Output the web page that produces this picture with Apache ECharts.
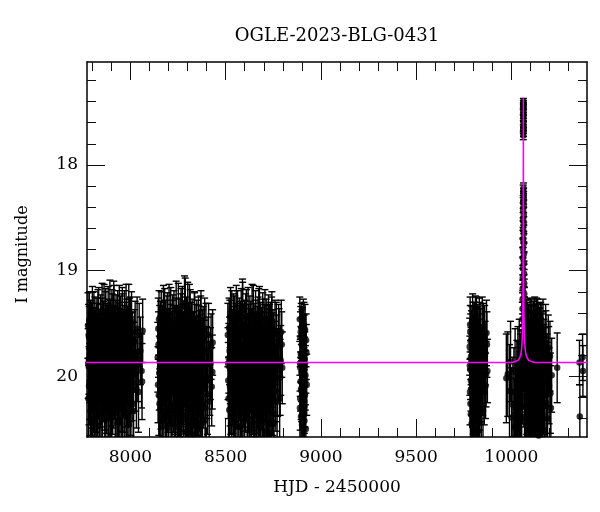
<!DOCTYPE html>
<html><head><meta charset="utf-8">
<script src="https://cdn.jsdelivr.net/npm/echarts@6/dist/echarts.min.js"></script>
<style>html,body{margin:0;padding:0;background:#fff}#c{width:600px;height:512px}</style>
</head><body><div id="c"></div>
<script>
const chartTitle = 'OGLE-2023-BLG-0431';
const xName = 'HJD - 2450000';
const yName = 'I magnitude';
const xMin = 7772, xMax = 10397;
const yMin = 17.025, yMax = 20.575;
const xMajorTicks = [8000, 8500, 9000, 9500, 10000];
const xMinorTicks = [7800, 7900, 8100, 8200, 8300, 8400, 8600, 8700, 8800, 8900, 9100, 9200, 9300, 9400, 9600, 9700, 9800, 9900, 10100, 10200, 10300];
const yMajorTicks = [18, 19, 20];
const yMinorTicks = [17.2, 17.4, 17.6, 17.8, 18.2, 18.4, 18.6, 18.8, 19.2, 19.4, 19.6, 19.8, 20.2, 20.4];

// [HJD-2450000, I mag, error]
const season1 = [[7777.3,19.52,0.31],[7779.1,20.21,0.38],[7781.8,19.84,0.33],[7783.2,19.63,0.29],[7785.9,20.05,0.36],[7787.4,19.91,0.34],[7790.6,20.33,0.41],[7792.1,19.74,0.30],[7794.8,19.58,0.28],[7796.3,20.12,0.37],
[7799.0,19.95,0.35],[7801.5,19.69,0.31],[7803.2,20.27,0.40],[7805.7,19.81,0.32],[7808.4,19.47,0.27],[7810.0,20.02,0.36],[7812.6,19.88,0.33],[7814.3,20.41,0.42],[7817.1,19.66,0.30],[7819.5,19.93,0.34],
[7821.2,20.15,0.38],[7823.9,19.55,0.29],[7826.4,19.79,0.32],[7828.0,20.08,0.37],[7830.7,19.86,0.33],[7833.3,19.43,0.27],[7835.1,20.19,0.39],[7837.8,19.72,0.31],[7840.2,20.36,0.41],[7842.6,19.97,0.35],
[7845.1,19.61,0.29],[7847.9,19.89,0.34],[7850.3,20.24,0.39],[7852.0,19.54,0.28],[7854.7,19.82,0.33],[7857.2,20.06,0.36],[7859.8,19.70,0.30],[7861.5,19.39,0.26],[7864.1,20.13,0.38],[7866.8,19.92,0.34],
[7869.2,19.48,0.28],[7871.0,20.30,0.40],[7873.6,19.77,0.32],[7876.3,19.60,0.29],[7878.9,20.01,0.35],[7881.4,19.87,0.33],[7883.0,19.42,0.27],[7885.7,20.22,0.39],[7888.2,19.68,0.30],[7890.9,19.99,0.35],
[7893.5,20.38,0.41],[7895.1,19.57,0.29],[7897.8,19.83,0.33],[7900.4,20.10,0.37],[7902.9,19.45,0.27],[7905.3,19.75,0.31],[7907.1,20.17,0.38],[7909.8,19.90,0.34],[7912.4,19.36,0.26],[7914.9,20.04,0.36],
[7917.5,19.64,0.30],[7919.2,19.85,0.33],[7921.9,20.28,0.40],[7924.6,19.51,0.28],[7927.1,19.96,0.35],[7929.7,20.44,0.42],[7932.2,19.71,0.31],[7934.0,19.80,0.32],[7936.6,20.09,0.37],[7939.3,19.59,0.29],
[7941.8,19.41,0.27],[7944.4,20.20,0.39],[7946.1,19.94,0.34],[7948.9,19.67,0.30],[7951.5,20.14,0.38],[7954.0,19.78,0.32],[7956.6,19.50,0.28],[7958.3,20.32,0.40],[7961.0,19.88,0.34],[7963.7,20.03,0.36],
[7966.2,19.62,0.29],[7968.8,19.46,0.27],[7971.5,20.25,0.39],[7973.1,19.73,0.31],[7975.9,19.98,0.35],[7978.4,20.11,0.37],[7981.0,19.56,0.29],[7983.7,19.84,0.33],[7986.2,20.39,0.41],[7988.9,19.65,0.30],
[7991.4,19.40,0.27],[7994.0,20.07,0.36],[7996.7,19.93,0.34],[7999.3,19.53,0.28],[8002.0,20.18,0.38],[8004.6,19.76,0.32],[8007.1,20.00,0.35],[8010.8,19.69,0.30],[8014.5,20.26,0.39],[8019.2,19.82,0.33],
[8024.7,19.58,0.29],[8031.3,20.12,0.37],[8038.6,19.90,0.34],[8046.0,19.61,0.30],[8058.4,19.95,0.35],[8064.2,19.57,0.30],
[7778.2,19.88,0.33],[7780.5,19.61,0.29],[7782.6,20.09,0.37],[7784.5,19.47,0.27],[7786.7,19.79,0.32],[7789.0,20.18,0.38],[7791.4,19.56,0.28],[7793.5,19.99,0.35],[7795.6,20.44,0.42],[7797.7,19.70,0.31],
[7800.2,19.42,0.27],[7802.4,19.91,0.34],[7804.5,20.14,0.38],[7807.1,19.65,0.30],[7809.2,19.84,0.33],[7811.3,20.29,0.40],[7813.5,19.53,0.28],[7815.7,19.97,0.35],[7818.3,19.74,0.31],[7820.4,20.36,0.41],
[7822.6,19.60,0.29],[7825.2,19.93,0.34],[7827.2,20.22,0.39],[7829.4,19.45,0.27],[7832.0,19.81,0.32],[7834.2,20.04,0.36],[7836.5,19.67,0.30],[7839.0,20.47,0.43],[7841.4,19.89,0.34],[7843.9,19.51,0.28],
[7846.5,20.11,0.37],[7849.1,19.76,0.31],[7851.2,19.38,0.26],[7853.4,20.25,0.39],[7856.0,19.86,0.33],[7858.5,19.58,0.29],[7860.7,20.07,0.36],[7862.8,19.72,0.31],[7865.5,20.32,0.40],[7868.0,19.95,0.35],
[7870.1,19.44,0.27],[7872.3,19.83,0.33],[7874.9,20.16,0.38],[7877.6,19.62,0.29],[7880.2,19.90,0.34],[7882.2,20.40,0.41],[7884.4,19.55,0.28],[7887.0,20.02,0.36],[7889.6,19.78,0.32],[7892.2,19.35,0.26],
[7894.3,20.20,0.39],[7896.5,19.68,0.30],[7899.1,19.94,0.35],[7901.7,20.27,0.40],[7904.1,19.50,0.28],[7906.2,19.87,0.33],[7908.5,20.12,0.37],[7911.1,19.63,0.30],[7913.7,19.41,0.27],[7916.2,20.05,0.36],
[7918.4,19.80,0.32],[7920.6,20.35,0.41],[7923.3,19.57,0.29],[7925.9,19.97,0.35],[7928.4,19.73,0.31],[7931.0,20.23,0.39],[7933.1,19.46,0.27],[7935.3,19.92,0.34],[7938.0,20.42,0.42],[7940.6,19.66,0.30],
[7943.1,19.85,0.33],[7945.3,20.08,0.37],[7947.5,19.52,0.28],[7950.2,19.77,0.32],[7952.8,20.30,0.40],[7955.3,19.96,0.35],[7957.5,19.43,0.27],[7959.7,20.15,0.38],[7962.4,19.69,0.30],[7965.0,19.89,0.34],
[7967.5,20.37,0.41],[7970.2,19.59,0.29],[7972.3,20.01,0.36],[7974.5,19.75,0.31],[7977.2,19.39,0.26],[7979.7,20.19,0.39],[7982.4,19.82,0.33],[7984.9,19.64,0.30],[7987.6,20.10,0.37],[7990.2,19.93,0.34],
[7992.7,20.46,0.42],[7995.4,19.54,0.28],[7998.0,19.87,0.34],[8000.7,20.24,0.39],[8003.3,19.71,0.31],[8005.9,19.48,0.28],[8008.9,20.06,0.36],[8012.7,19.80,0.32],[8016.8,20.33,0.40],[8022.0,19.67,0.30],
[8028.0,19.98,0.35],[8035.0,19.55,0.30],[8042.3,20.15,0.38],[8052.2,19.76,0.32],[8061.0,20.05,0.36]];

const season2 = [[8143.6,19.82,0.33],[8146.2,19.55,0.29],[8148.9,20.18,0.38],[8151.3,19.97,0.35],[8153.8,19.63,0.30],[8156.4,20.31,0.40],[8159.0,19.74,0.31],[8161.7,19.48,0.28],[8164.1,20.06,0.36],[8166.8,19.89,0.34],
[8169.3,20.24,0.39],[8171.9,19.59,0.29],[8174.4,19.80,0.33],[8177.0,20.12,0.37],[8179.6,19.44,0.27],[8182.2,19.93,0.34],[8184.8,20.37,0.41],[8187.3,19.67,0.30],[8189.9,20.02,0.35],[8192.5,19.52,0.28],
[8195.0,19.86,0.33],[8197.6,20.21,0.39],[8200.2,19.71,0.31],[8202.8,19.40,0.27],[8205.3,20.09,0.36],[8207.9,19.95,0.35],[8210.5,19.61,0.29],[8213.1,20.29,0.40],[8215.6,19.78,0.32],[8218.2,20.45,0.42],
[8220.8,19.57,0.29],[8223.4,19.84,0.33],[8226.0,20.15,0.38],[8228.5,19.46,0.27],[8231.1,19.99,0.35],[8233.7,19.69,0.30],[8236.3,20.33,0.40],[8238.8,19.91,0.34],[8241.4,19.54,0.28],[8244.0,20.05,0.36],
[8246.6,19.76,0.32],[8249.2,20.48,0.43],[8251.7,19.38,0.26],[8254.3,19.88,0.34],[8256.9,20.19,0.38],[8259.5,19.64,0.30],[8262.1,20.01,0.35],[8264.6,19.50,0.28],[8267.2,20.26,0.39],[8269.8,19.81,0.33],
[8272.4,19.42,0.27],[8275.0,20.11,0.37],[8277.5,19.73,0.31],[8280.1,20.40,0.41],[8282.7,19.58,0.29],[8285.3,19.94,0.35],[8287.9,19.33,0.26],[8290.4,20.22,0.39],[8293.0,19.66,0.30],[8295.6,20.52,0.43],
[8298.2,19.85,0.33],[8300.8,19.37,0.26],[8303.3,20.07,0.36],[8305.9,19.60,0.29],[8308.5,20.34,0.40],[8311.1,19.79,0.32],[8313.7,19.45,0.27],[8316.2,20.16,0.38],[8318.8,19.92,0.34],[8321.4,20.47,0.42],
[8324.0,19.56,0.29],[8326.6,19.83,0.33],[8329.1,20.28,0.40],[8331.7,19.70,0.31],[8334.3,20.03,0.36],[8336.9,19.49,0.28],[8339.5,20.42,0.41],[8342.0,19.87,0.34],[8344.6,19.62,0.30],[8347.2,20.20,0.39],
[8349.8,19.75,0.32],[8352.4,20.50,0.43],[8354.9,19.98,0.35],[8357.5,19.53,0.28],[8360.1,20.13,0.37],[8362.7,19.68,0.30],[8365.3,20.36,0.41],[8367.8,19.90,0.34],[8370.4,19.47,0.28],[8373.0,20.23,0.39],
[8375.6,19.77,0.32],[8378.2,20.44,0.42],[8381.4,19.64,0.30],[8385.1,20.08,0.36],[8389.7,19.55,0.29],[8394.3,20.30,0.40],[8399.0,19.86,0.33],[8404.6,20.17,0.38],[8410.2,19.61,0.30],[8416.8,20.02,0.35],
[8423.5,19.72,0.31],[8429.9,19.96,0.35],
[8144.9,20.08,0.36],[8147.5,19.70,0.31],[8150.1,19.46,0.27],[8152.5,20.26,0.39],[8155.1,19.86,0.33],[8157.7,19.58,0.29],[8160.3,20.13,0.37],[8162.9,19.77,0.32],[8165.4,20.42,0.42],[8168.0,19.64,0.30],
[8170.6,19.93,0.34],[8173.1,19.41,0.27],[8175.7,20.20,0.39],[8178.3,19.82,0.33],[8180.9,20.04,0.36],[8183.5,19.56,0.28],[8186.0,19.96,0.35],[8188.6,20.32,0.40],[8191.2,19.73,0.31],[8193.7,19.49,0.28],
[8196.3,20.15,0.38],[8198.9,19.89,0.34],[8201.5,20.49,0.43],[8204.1,19.66,0.30],[8206.6,19.84,0.33],[8209.2,20.10,0.37],[8211.8,19.43,0.27],[8214.4,19.99,0.35],[8216.9,20.27,0.40],[8219.5,19.72,0.31],
[8222.1,19.51,0.28],[8224.7,20.06,0.36],[8227.3,19.91,0.34],[8229.8,20.38,0.41],[8232.4,19.62,0.29],[8235.0,19.79,0.32],[8237.6,20.17,0.38],[8240.1,19.36,0.26],[8242.7,19.95,0.35],[8245.3,20.23,0.39],
[8247.9,19.68,0.30],[8250.5,19.87,0.34],[8253.0,20.45,0.42],[8255.6,19.55,0.28],[8258.2,20.02,0.36],[8260.8,19.78,0.32],[8263.4,20.31,0.40],[8265.9,19.44,0.27],[8268.5,19.92,0.34],[8271.1,20.14,0.38],
[8273.7,19.61,0.29],[8276.3,19.83,0.33],[8278.8,20.53,0.44],[8281.4,19.70,0.31],[8284.0,19.31,0.26],[8286.6,20.09,0.37],[8289.2,19.88,0.34],[8291.7,20.37,0.41],[8294.3,19.53,0.28],[8296.9,19.97,0.35],
[8299.5,20.21,0.39],[8302.1,19.65,0.30],[8304.6,20.46,0.43],[8307.2,19.81,0.33],[8309.8,19.40,0.27],[8312.4,20.05,0.36],[8315.0,19.74,0.31],[8317.5,20.29,0.40],[8320.1,19.59,0.29],[8322.7,19.94,0.35],
[8325.3,20.55,0.44],[8327.9,19.69,0.30],[8330.4,20.11,0.37],[8333.0,19.85,0.33],[8335.6,19.48,0.28],[8338.2,20.25,0.39],[8340.8,19.76,0.32],[8343.3,20.43,0.42],[8345.9,19.90,0.34],[8348.5,19.57,0.29],
[8351.1,20.18,0.38],[8353.7,19.81,0.33],[8356.2,20.49,0.43],[8358.8,19.63,0.30],[8361.4,20.00,0.36],[8364.0,19.73,0.31],[8366.6,20.33,0.41],[8369.1,19.52,0.28],[8371.7,20.07,0.36],[8374.3,19.86,0.33],
[8376.9,20.27,0.40],[8379.8,19.67,0.30],[8383.2,20.12,0.37],[8387.4,19.79,0.32],[8392.0,20.41,0.42],[8396.6,19.60,0.29],[8401.8,20.04,0.36],[8407.4,19.75,0.31],[8413.5,20.24,0.39],[8420.1,19.88,0.34],
[8426.7,20.10,0.37],[8431.5,19.68,0.31]];

const season3 = [[8511.4,19.61,0.30],[8513.9,20.04,0.36],[8516.5,19.83,0.33],[8519.2,20.32,0.40],[8521.8,19.57,0.29],[8524.3,19.92,0.34],[8527.0,20.17,0.38],[8529.6,19.70,0.31],[8532.1,19.46,0.27],[8534.8,20.09,0.37],
[8537.4,19.88,0.34],[8540.0,20.41,0.42],[8542.6,19.64,0.30],[8545.2,19.99,0.35],[8547.8,19.52,0.28],[8550.3,20.23,0.39],[8553.0,19.78,0.32],[8555.6,19.41,0.27],[8558.2,20.13,0.37],[8560.8,19.94,0.35],
[8563.4,19.68,0.30],[8566.0,20.36,0.41],[8568.6,19.85,0.33],[8571.2,19.55,0.29],[8573.8,20.06,0.36],[8576.3,19.74,0.31],[8579.0,20.47,0.42],[8581.6,19.44,0.27],[8584.2,19.90,0.34],[8586.8,20.20,0.39],
[8589.4,19.37,0.26],[8592.0,19.81,0.33],[8594.6,20.11,0.37],[8597.2,19.62,0.30],[8599.8,20.29,0.40],[8602.3,19.97,0.35],[8604.9,19.50,0.28],[8607.5,20.01,0.36],[8610.1,19.72,0.31],[8612.7,20.38,0.41],
[8615.3,19.86,0.33],[8617.9,19.43,0.27],[8620.5,20.15,0.38],[8623.1,19.66,0.30],[8625.7,20.51,0.43],[8628.3,19.93,0.34],[8630.9,19.58,0.29],[8633.5,20.24,0.39],[8636.1,19.77,0.32],[8638.7,19.40,0.27],
[8641.3,20.08,0.36],[8643.9,19.89,0.34],[8646.5,20.44,0.42],[8649.1,19.60,0.29],[8651.7,19.96,0.35],[8654.3,20.19,0.38],[8656.9,19.47,0.28],[8659.5,19.82,0.33],[8662.1,20.33,0.40],[8664.7,19.69,0.30],
[8667.3,20.03,0.36],[8669.9,19.53,0.28],[8672.5,20.27,0.40],[8675.1,19.79,0.32],[8677.7,19.42,0.27],[8680.3,20.12,0.37],[8682.9,19.91,0.34],[8685.5,20.49,0.43],[8688.1,19.65,0.30],[8690.7,19.98,0.35],
[8693.3,20.22,0.39],[8695.9,19.56,0.29],[8698.5,19.84,0.33],[8701.1,20.39,0.41],[8703.7,19.71,0.31],[8706.3,19.45,0.27],[8708.9,20.07,0.36],[8711.5,19.95,0.35],[8714.1,20.30,0.40],[8716.7,19.63,0.30],
[8719.3,19.87,0.34],[8721.9,20.16,0.38],[8724.5,19.51,0.28],[8727.1,20.45,0.42],[8729.7,19.76,0.32],[8732.3,20.00,0.35],[8734.9,19.59,0.29],[8737.5,20.25,0.39],[8740.1,19.80,0.33],[8742.7,19.48,0.28],
[8745.3,20.10,0.37],[8748.4,19.67,0.30],[8751.6,20.35,0.41],[8755.2,19.92,0.34],[8759.0,19.57,0.29],[8763.3,20.14,0.38],[8767.9,19.73,0.31],[8772.6,20.02,0.36],[8777.8,19.62,0.30],[8783.5,20.21,0.39],
[8789.1,19.85,0.33],[8794.6,19.70,0.31],
[8512.6,19.88,0.34],[8515.2,20.21,0.39],[8517.8,19.54,0.28],[8520.5,19.76,0.32],[8523.0,20.10,0.37],[8525.6,19.43,0.27],[8528.3,19.95,0.35],[8530.8,20.35,0.41],[8533.4,19.67,0.30],[8536.1,19.84,0.33],
[8538.7,20.16,0.38],[8541.3,19.50,0.28],[8543.9,19.92,0.34],[8546.5,20.43,0.42],[8549.0,19.71,0.31],[8551.6,20.02,0.36],[8554.3,19.60,0.29],[8556.9,19.86,0.33],[8559.5,20.26,0.40],[8562.1,19.47,0.28],
[8564.7,19.97,0.35],[8567.3,20.12,0.37],[8569.9,19.63,0.30],[8572.5,19.80,0.32],[8575.0,20.48,0.43],[8577.6,19.58,0.29],[8580.3,19.91,0.34],[8582.9,20.19,0.39],[8585.5,19.69,0.30],[8588.1,19.34,0.26],
[8590.7,20.05,0.36],[8593.3,19.83,0.33],[8595.9,20.31,0.40],[8598.5,19.56,0.28],[8601.0,19.94,0.35],[8603.6,20.14,0.38],[8606.2,19.74,0.31],[8608.8,19.45,0.27],[8611.4,20.08,0.36],[8614.0,19.89,0.34],
[8616.6,20.40,0.41],[8619.2,19.61,0.29],[8621.8,19.78,0.32],[8624.4,20.23,0.39],[8627.0,19.52,0.28],[8629.6,20.00,0.35],[8632.2,19.85,0.33],[8634.8,20.46,0.42],[8637.4,19.66,0.30],[8640.0,19.93,0.34],
[8642.6,20.17,0.38],[8645.2,19.41,0.27],[8647.8,19.81,0.33],[8650.4,20.28,0.40],[8653.0,19.73,0.31],[8655.6,20.04,0.36],[8658.2,19.57,0.29],[8660.8,19.90,0.34],[8663.4,20.52,0.44],[8666.0,19.64,0.30],
[8668.6,20.11,0.37],[8671.2,19.79,0.32],[8673.8,19.44,0.27],[8676.4,20.20,0.39],[8679.0,19.87,0.33],[8681.6,20.37,0.41],[8684.2,19.59,0.29],[8686.8,19.96,0.35],[8689.4,20.09,0.37],[8692.0,19.70,0.31],
[8694.6,19.49,0.28],[8697.2,20.25,0.39],[8699.8,19.83,0.33],[8702.4,20.01,0.36],[8705.0,19.62,0.30],[8707.6,20.42,0.42],[8710.2,19.92,0.34],[8712.8,19.55,0.28],[8715.4,20.13,0.38],[8718.0,19.75,0.31],
[8720.6,20.32,0.40],[8723.2,19.66,0.30],[8725.8,19.98,0.35],[8728.4,20.54,0.44],[8731.0,19.61,0.29],[8733.6,20.06,0.36],[8736.2,19.84,0.33],[8738.8,20.27,0.40],[8741.4,19.53,0.28],[8744.0,19.94,0.35],
[8746.8,20.18,0.38],[8750.0,19.71,0.31],[8753.4,20.44,0.42],[8757.1,19.80,0.32],[8761.1,20.07,0.36],[8765.6,19.60,0.30],[8770.2,20.24,0.39],[8775.2,19.89,0.34],[8780.6,19.66,0.30],[8786.3,20.01,0.36],
[8791.8,19.58,0.30],[8797.0,19.92,0.34]];

const season4 = [[8889.2,19.46,0.21],[8890.5,19.88,0.26],[8891.3,20.21,0.30],[8892.6,19.63,0.24],[8893.4,20.05,0.28],[8894.7,19.79,0.26],[8895.5,20.38,0.32],[8896.8,19.54,0.23],[8897.6,19.97,0.27],[8898.9,20.14,0.29],
[8899.7,19.70,0.25],[8901.0,20.46,0.33],[8901.8,19.86,0.26],[8903.1,19.59,0.24],[8903.9,20.27,0.31],[8905.2,19.93,0.27],[8906.0,19.75,0.25],[8907.3,20.09,0.29],[8908.1,19.50,0.23],[8909.4,20.33,0.31],
[8910.2,19.82,0.26],[8911.5,20.01,0.28],[8912.3,19.67,0.25],[8913.6,20.42,0.33],[8914.4,19.90,0.27],[8915.7,20.18,0.30],[8917.0,19.56,0.24],[8918.8,19.99,0.28],[8920.9,20.50,0.34],[8923.4,19.77,0.26],[8925.6,20.08,0.29],
[8889.8,20.30,0.31],[8891.9,19.92,0.27],[8894.0,19.58,0.24],[8895.9,20.12,0.29],[8898.2,19.80,0.26],[8900.4,19.62,0.25],[8902.5,20.36,0.32],[8904.6,19.71,0.25],[8906.7,20.48,0.34],[8908.8,19.95,0.27],
[8911.0,19.53,0.23],[8913.0,20.24,0.30],[8915.1,19.84,0.26],[8917.9,20.04,0.28],[8922.1,19.66,0.25]];

const season5 = [[9781.2,19.72,0.27],[9782.8,20.15,0.31],[9784.1,19.58,0.25],[9785.7,19.94,0.28],[9787.0,20.36,0.33],[9788.6,19.81,0.27],[9790.3,19.64,0.26],[9791.9,20.07,0.30],[9793.4,19.88,0.28],[9795.0,20.47,0.34],
[9796.5,19.49,0.27],[9798.1,19.99,0.29],[9799.6,20.24,0.31],[9801.2,19.69,0.26],[9802.7,19.91,0.28],[9804.3,20.41,0.33],[9805.8,19.55,0.25],[9807.4,20.11,0.30],[9808.9,19.77,0.27],[9810.5,20.02,0.29],
[9812.0,19.62,0.26],[9813.6,20.30,0.32],[9815.1,19.85,0.28],[9816.7,19.52,0.27],[9818.2,20.19,0.31],[9819.8,19.96,0.28],[9821.3,19.74,0.27],[9822.9,20.52,0.35],[9824.4,19.60,0.26],[9826.0,20.05,0.30],
[9827.5,19.83,0.28],[9829.1,20.27,0.32],[9830.6,19.67,0.26],[9832.2,19.93,0.28],[9833.7,20.44,0.34],[9835.3,19.57,0.27],[9837.5,20.13,0.30],[9840.2,19.79,0.27],[9843.6,20.00,0.29],[9847.1,19.54,0.29],
[9851.0,20.33,0.33],[9855.4,19.87,0.28],[9859.8,19.63,0.30],[9864.5,20.09,0.31],[9869.3,19.59,0.31],[9874.1,19.95,0.30],
[9781.9,19.90,0.28],[9783.5,19.51,0.26],[9784.9,20.26,0.32],[9786.4,19.67,0.26],[9787.8,20.04,0.29],[9789.4,19.84,0.28],[9791.1,20.45,0.34],[9792.6,19.60,0.26],[9794.2,19.97,0.28],[9795.8,20.17,0.31],
[9797.3,19.75,0.27],[9798.9,19.56,0.26],[9800.4,20.34,0.33],[9802.0,19.82,0.27],[9803.5,20.08,0.30],[9805.1,19.64,0.26],[9806.6,19.92,0.28],[9808.2,20.50,0.35],[9809.7,19.70,0.27],[9811.3,19.50,0.26],
[9812.8,20.13,0.31],[9814.4,19.89,0.28],[9815.9,20.38,0.33],[9817.5,19.61,0.26],[9819.0,19.78,0.27],[9820.6,20.22,0.31],[9822.1,19.95,0.28],[9823.7,19.58,0.26],[9825.2,20.43,0.34],[9826.8,19.73,0.27],
[9828.3,20.03,0.29],[9829.9,19.86,0.28],[9831.4,19.53,0.27],[9833.0,20.20,0.31],[9836.4,19.91,0.29],[9838.8,19.66,0.30],[9842.0,20.28,0.32],[9845.3,19.83,0.29],[9849.0,20.06,0.31],[9853.2,19.61,0.30],
[9857.6,20.15,0.31],[9862.1,19.78,0.30],[9866.9,19.98,0.31],[9871.7,19.70,0.31]];

const season6Before = [[9973.5,20.02,0.42],[9981.0,19.98,0.40],[9990.2,20.14,0.44],[9995.6,19.86,0.38],[10001.3,20.39,0.47],[10007.8,20.27,0.45],[10013.4,20.15,0.42],[10016.9,20.48,0.46],[10019.6,19.95,0.40],[10022.8,20.31,0.43],
[10026.1,20.46,0.48],[10028.7,20.05,0.39],[10031.9,20.33,0.44],[10034.2,19.90,0.37],[10036.5,20.08,0.41],[10038.8,20.52,0.47],[10041.2,19.84,0.38],[10043.4,20.19,0.42],[10045.7,20.22,0.43],[10047.6,19.97,0.37],
[10049.3,20.41,0.44],[10051.0,19.93,0.36],[10052.6,20.04,0.34],[10054.2,20.28,0.39],[10055.9,19.88,0.32],[10057.4,20.12,0.33],[10059.0,19.80,0.28],[10060.1,19.98,0.30]];

const season6Event = [[10057.6,19.46,0.16],[10058.3,19.36,0.15],[10058.9,19.27,0.14],[10059.4,19.17,0.13],[10059.8,19.07,0.12],[10060.2,18.98,0.11],[10060.5,18.88,0.10],[10060.8,18.79,0.09],[10061.1,18.70,0.08],[10061.3,18.61,0.08],
[10061.5,18.52,0.07],[10061.7,18.43,0.07],[10061.9,18.35,0.06],[10062.1,18.25,0.06],[10062.5,17.72,0.04],[10062.6,17.66,0.04],[10062.7,17.55,0.03],[10062.8,17.50,0.03],[10062.9,17.44,0.03],[10063.0,17.40,0.03],
[10063.1,17.42,0.03],[10063.2,17.45,0.03],[10063.3,17.53,0.03],[10063.4,17.60,0.04],[10063.5,17.63,0.04],[10063.6,17.69,0.04],[10064.0,18.22,0.05],[10064.2,18.28,0.06],[10064.4,18.31,0.06],[10064.6,18.39,0.06],
[10064.8,18.47,0.07],[10065.0,18.56,0.07],[10065.3,18.65,0.08],[10065.6,18.74,0.09],[10065.9,18.84,0.10],[10066.3,18.93,0.11],[10066.7,19.03,0.12],[10067.2,19.12,0.13],[10067.7,19.22,0.14],[10068.3,19.31,0.15],
[10069.0,19.41,0.16],[10069.8,19.50,0.17]];

const season6After = [[10066.4,19.71,0.30],[10068.2,20.12,0.36],[10069.9,19.58,0.28],[10071.5,19.93,0.33],[10073.3,20.38,0.41],[10075.0,19.80,0.31],[10076.8,20.05,0.35],[10078.5,19.54,0.27],[10080.3,20.24,0.38],[10082.0,19.89,0.33],
[10083.8,19.66,0.29],[10085.5,20.47,0.43],[10087.3,19.97,0.34],[10089.0,19.61,0.28],[10090.8,20.16,0.37],[10092.5,19.76,0.30],[10094.3,20.31,0.40],[10096.0,19.85,0.32],[10097.8,19.53,0.27],[10099.5,20.08,0.35],
[10101.3,19.70,0.30],[10103.0,20.53,0.44],[10104.8,19.92,0.33],[10106.5,19.63,0.29],[10108.3,20.20,0.38],[10110.0,19.82,0.31],[10111.8,20.41,0.42],[10113.5,19.57,0.28],[10115.3,20.01,0.34],[10117.0,19.74,0.30],
[10118.8,20.27,0.39],[10120.5,19.88,0.32],[10122.3,19.52,0.27],[10124.0,20.13,0.36],[10125.8,19.68,0.29],[10127.5,20.49,0.43],[10129.3,19.95,0.33],[10131.0,19.60,0.28],[10132.8,20.34,0.40],[10134.5,19.79,0.31],
[10136.3,20.03,0.35],[10138.0,19.55,0.28],[10139.8,20.22,0.38],[10141.5,19.86,0.32],[10143.3,20.56,0.45],[10145.0,19.72,0.30],[10146.8,20.10,0.36],[10148.5,19.64,0.29],[10150.3,20.29,0.39],[10152.0,19.91,0.33],
[10153.8,19.58,0.28],[10155.5,20.44,0.42],[10157.3,19.83,0.31],[10159.0,20.06,0.35],[10160.8,19.69,0.30],[10162.5,20.36,0.41],[10164.3,19.96,0.34],[10166.0,19.56,0.29],[10168.5,20.18,0.37],[10171.2,19.77,0.31],
[10174.0,20.51,0.44],[10176.9,19.87,0.33],[10179.8,19.62,0.30],[10183.1,20.25,0.39],[10186.5,19.94,0.34],[10190.2,20.40,0.42],[10194.0,19.73,0.31],[10198.1,20.09,0.36],[10202.6,19.81,0.33],[10207.3,20.30,0.40],
[10211.5,19.99,0.35],[10240.4,19.92,0.33],
[10067.3,19.94,0.33],[10069.0,20.29,0.39],[10070.7,19.66,0.29],[10072.4,20.07,0.35],[10074.1,19.55,0.27],[10075.9,20.45,0.42],[10077.6,19.85,0.32],[10079.4,19.63,0.29],[10081.1,20.18,0.37],[10082.9,19.75,0.30],
[10084.6,20.02,0.35],[10086.4,19.58,0.28],[10088.1,20.36,0.40],[10089.9,19.90,0.33],[10091.6,19.69,0.30],[10093.4,20.52,0.44],[10095.1,19.81,0.31],[10096.9,20.11,0.36],[10098.6,19.60,0.28],[10100.4,20.23,0.38],
[10102.1,19.96,0.34],[10103.9,19.54,0.27],[10105.6,20.40,0.41],[10107.4,19.78,0.31],[10109.1,20.05,0.35],[10110.9,19.67,0.29],[10112.6,20.31,0.40],[10114.4,19.88,0.33],[10116.1,19.57,0.28],[10117.9,20.14,0.37],
[10119.6,19.73,0.30],[10121.4,20.48,0.43],[10123.1,19.92,0.33],[10124.9,19.62,0.29],[10126.6,20.26,0.39],[10128.4,19.84,0.32],[10130.1,20.09,0.36],[10131.9,19.53,0.27],[10133.6,20.38,0.41],[10135.4,19.97,0.34],
[10137.1,19.70,0.30],[10138.9,20.54,0.45],[10140.6,19.80,0.31],[10142.4,20.00,0.35],[10144.1,19.59,0.28],[10145.9,20.21,0.38],[10147.6,19.89,0.33],[10149.4,19.65,0.29],[10151.1,20.43,0.42],[10152.9,19.76,0.31],
[10154.6,20.12,0.37],[10156.4,19.61,0.29],[10158.1,20.33,0.40],[10159.9,19.94,0.34],[10162.0,19.71,0.30],[10165.1,20.19,0.38],[10169.8,19.83,0.32],[10175.4,20.28,0.40],[10181.3,19.68,0.30],[10188.4,20.04,0.36],
[10196.0,19.86,0.33],[10204.8,20.16,0.38]];

const season7 = [[10357.5,19.87,0.21],[10359.4,20.38,0.30],[10373.8,19.82,0.22],[10375.6,19.95,0.24]];

const modelHjd = [7750, 10003, 10020, 10035, 10045, 10050, 10053, 10056, 10058, 10059, 10060, 10061, 10061.7, 10062.3, 10062.7, 10063,
  10063.3, 10063.7, 10064.3, 10065, 10066, 10067, 10068, 10070, 10073, 10076, 10081, 10091, 10106, 10123, 10400];
const modelMag = [19.87, 19.87, 19.86, 19.85, 19.82, 19.79, 19.75, 19.68, 19.60, 19.52, 19.40, 19.15, 18.85, 18.25, 17.75, 17.36,
  17.75, 18.25, 18.85, 19.15, 19.40, 19.52, 19.60, 19.68, 19.75, 19.79, 19.82, 19.85, 19.86, 19.87, 19.87];

const FONT = 'DejaVu Serif';
const points = [].concat(season1, season2, season3, season4, season5, season6Before, season6Event, season6After, season7);
const model = modelHjd.map((t, i) => [t, modelMag[i]]);

function mkAxis(dir, pos, ticks, len, major, extra) {
  const a = {
    type: 'value', position: pos,
    min: dir === 'x' ? xMin : yMin, max: dir === 'x' ? xMax : yMax,
    splitLine: {show: false}, minorTick: {show: false},
    axisLine: {show: major, onZero: false, lineStyle: {color: '#000', width: 1.5}},
    axisTick: {show: true, inside: true, length: len, customValues: ticks, lineStyle: {color: '#111', width: 1}},
    axisLabel: {show: false}
  };
  if (dir === 'y') a.inverse = true;
  return Object.assign(a, extra || {});
}

const labelStyle = {color: '#000', fontFamily: FONT, fontSize: 17};

const option = {
  animation: false,
  backgroundColor: '#fff',
  grid: {left: 87, right: 13, top: 62, bottom: 75, outerBoundsMode: 'none'},
  graphic: [{type: 'text', x: 337, y: 36, style: {text: chartTitle, fill: '#000', font: '18px "' + FONT + '"', align: 'center', verticalAlign: 'middle'}}],
  xAxis: [
    mkAxis('x', 'bottom', xMajorTicks, 18, true, {
      axisLabel: Object.assign({show: true, customValues: xMajorTicks, margin: 12, formatter: v => String(v)}, labelStyle),
      name: xName, nameLocation: 'middle', nameGap: 42,
      nameTextStyle: {color: '#000', fontFamily: FONT, fontSize: 17}
    }),
    mkAxis('x', 'bottom', xMinorTicks, 9, false),
    mkAxis('x', 'top', xMajorTicks, 18, true),
    mkAxis('x', 'top', xMinorTicks, 9, false)
  ],
  yAxis: [
    mkAxis('y', 'left', yMajorTicks, 18, true, {
      axisLabel: Object.assign({show: true, customValues: yMajorTicks, margin: 9, formatter: v => String(v)}, labelStyle),
      name: yName, nameLocation: 'middle', nameGap: 56, nameRotate: 90,
      nameTextStyle: {color: '#000', fontFamily: FONT, fontSize: 16, padding: [0, 10, 0, 0]}
    }),
    mkAxis('y', 'left', yMinorTicks, 9, false),
    mkAxis('y', 'right', yMajorTicks, 18, true),
    mkAxis('y', 'right', yMinorTicks, 9, false)
  ],
  series: [
    {
      type: 'custom', xAxisIndex: 0, yAxisIndex: 0, z: 2,
      data: points,
      encode: {x: 0, y: 1},
      renderItem: function (params, api) {
        const t = api.value(0), m = api.value(1), e = api.value(2);
        const a = api.coord([t, m - e]);
        const b = api.coord([t, m + e]);
        const cs = params.coordSys;
        const top = cs.y, bot = cs.y + cs.height;
        const yA = Math.min(a[1], b[1]), yB = Math.max(a[1], b[1]);
        const y1 = Math.max(top, yA), y2 = Math.min(bot, yB);
        if (y1 >= y2) return null;
        const x = a[0], hw = 3.5;
        const st = {stroke: '#000', lineWidth: 1.4};
        const ch = [{type: 'line', shape: {x1: x, y1: y1, x2: x, y2: y2}, style: st}];
        if (yA >= top) ch.push({type: 'line', shape: {x1: x - hw, y1: yA, x2: x + hw, y2: yA}, style: st});
        if (yB <= bot) ch.push({type: 'line', shape: {x1: x - hw, y1: yB, x2: x + hw, y2: yB}, style: st});
        return {type: 'group', children: ch};
      }
    },
    {
      type: 'scatter', xAxisIndex: 0, yAxisIndex: 0, z: 3,
      data: points.map(p => [p[0], p[1]]),
      symbol: 'circle', symbolSize: 6.5,
      itemStyle: {color: '#000'}, clip: true
    },
    {
      type: 'line', xAxisIndex: 0, yAxisIndex: 0, z: 5,
      data: model, showSymbol: false, symbol: 'none', clip: true,
      lineStyle: {color: '#ff00ff', width: 1.5}
    }
  ]
};

const chart = echarts.init(document.getElementById('c'), null, {renderer: 'canvas'});
chart.setOption(option);
</script>
</body></html>
